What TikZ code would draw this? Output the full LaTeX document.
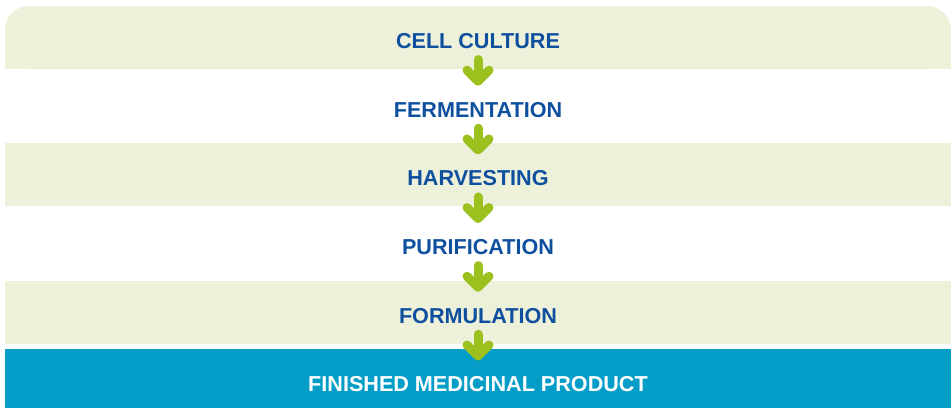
\documentclass[tikz,border=0pt]{standalone}
\usepackage{fontspec}
\setmainfont{Liberation Sans}
\usetikzlibrary{arrows.meta}
\definecolor{bandgreen}{HTML}{EEF1DA}
\definecolor{prodblue}{HTML}{049DC7}
\definecolor{arrowgreen}{HTML}{9CC11E}
\definecolor{textblue}{HTML}{0E4F9E}
\begin{document}
\begin{tikzpicture}[x = 1pt, y = -1pt,
  stage/.style = {font = \fontsize{21.6}{26}\selectfont\bfseries, text = textblue, inner sep = 0pt},
  flow/.style = {draw = arrowgreen, line width = 9pt, line cap = round,
    shorten < = 18.5pt, shorten > = 24pt,
    -{Straight Barb[round, length = 11pt, width = 22pt]}}]
\useasboundingbox (0, 0) rectangle (951, 408);

\fill[bandgreen, rounded corners = 24pt] (5, 6) rectangle (951, 69);
\fill[bandgreen] (5, 40) rectangle (951, 69);
\fill[bandgreen] (5, 143) rectangle (951, 206);
\fill[bandgreen] (5, 281) rectangle (951, 344);
\fill[prodblue] (5, 349) rectangle (951, 408);

\node[stage] (cell) at (478, 41) {CELL CULTURE};
\node[stage] (ferm) at (478, 109.7) {FERMENTATION};
\node[stage] (harv) at (478, 178.4) {HARVESTING};
\node[stage] (puri) at (478, 247.1) {PURIFICATION};
\node[stage] (form) at (478, 315.8) {FORMULATION};
\node[stage, text = white] (prod) at (478, 384.5) {FINISHED MEDICINAL PRODUCT};

\draw[flow] (cell.center) -- (ferm.center);
\draw[flow] (ferm.center) -- (harv.center);
\draw[flow] (harv.center) -- (puri.center);
\draw[flow] (puri.center) -- (form.center);
\draw[flow] (form.center) -- (prod.center);
\end{tikzpicture}
\end{document}
